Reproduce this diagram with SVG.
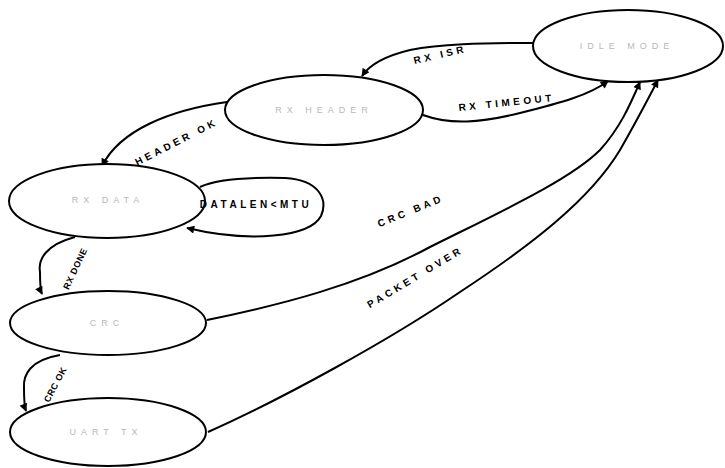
<svg xmlns="http://www.w3.org/2000/svg" width="725" height="468" viewBox="0 0 725 468">
<defs>
<style>
.node{fill:#fff;stroke:#000;stroke-width:2}
.nl{font-family:"Liberation Sans",Arial,sans-serif;font-size:9px;fill:#b8b8b8;letter-spacing:5px;text-anchor:middle}
.edge{fill:none;stroke:#000;stroke-width:2}
.el{font-family:"Liberation Sans",Arial,sans-serif;font-size:10px;font-weight:bold;fill:#000;letter-spacing:3.5px;text-anchor:middle}
.tight{letter-spacing:0.5px;font-size:9px}
</style>
<marker id="ah" viewBox="0 0 10 10" refX="9" refY="5" markerWidth="9" markerHeight="8" orient="auto" markerUnits="userSpaceOnUse">
<path d="M0,0 L10,5 L0,10 z" fill="#000"/>
</marker>
</defs>
<rect width="725" height="468" fill="#fff"/>
<g id="connectors">
<path class="edge" marker-end="url(#ah)" d="M533,43 C480,43 440,44 410,50 C385,56 370,64 362,76"/>
<path class="edge" marker-end="url(#ah)" d="M423,115 C450,125 480,123 520,113 C560,103 590,95 608,81"/>
<path class="edge" marker-end="url(#ah)" d="M227,102 C170,110 120,130 102,166"/>
<path class="edge" marker-end="url(#ah)" d="M200,187 C215,180 240,177 285,178 C320,180 328,200 321,216 C310,237 250,243 187,228"/>
<path class="edge" marker-end="url(#ah)" d="M75,237 C45,245 38,260 40,272 C40,283 40,290 42,294"/>
<path class="edge" marker-end="url(#ah)" d="M60,355 C30,360 23,375 24,388 C24,400 24,406 26,411"/>
<path class="edge" marker-end="url(#ah)" d="M207,320 C280,305 360,285 430,247 C500,212 570,180 600,150 C620,128 630,105 640,82"/>
<path class="edge" marker-end="url(#ah)" d="M208,432 C280,400 390,340 460,292 C530,246 590,200 620,150 C640,115 650,95 658,80"/>
</g>
<g id="idle-mode">
<ellipse class="node" cx="628" cy="46" rx="95" ry="36"/>
<text class="nl" x="627" y="49">IDLE MODE</text>
</g>
<g id="rx-header">
<ellipse class="node" cx="324" cy="110" rx="99" ry="35"/>
<text class="nl" x="324" y="113">RX HEADER</text>
</g>
<g id="rx-data">
<ellipse class="node" cx="107" cy="201" rx="98" ry="37"/>
<text class="nl" x="108" y="203">RX DATA</text>
</g>
<g id="crc">
<ellipse class="node" cx="108" cy="323" rx="98" ry="32"/>
<text class="nl" x="107" y="326">CRC</text>
</g>
<g id="uart-tx">
<ellipse class="node" cx="108" cy="432" rx="98" ry="34"/>
<text class="nl" x="106" y="435">UART TX</text>
</g>
<g id="edge-labels">
<text class="el" transform="translate(441,58) rotate(-13)">RX ISR</text>
<text class="el" transform="translate(507,106) rotate(-6)">RX TIMEOUT</text>
<text class="el" transform="translate(178,145) rotate(-27)">HEADER OK</text>
<text class="el" x="256" y="208">DATALEN&lt;MTU</text>
<text class="el tight" transform="translate(78,270) rotate(-65)">RX DONE</text>
<text class="el tight" transform="translate(58,386) rotate(-62)">CRC OK</text>
<text class="el" transform="translate(412,214) rotate(-22)">CRC BAD</text>
<text class="el" transform="translate(417,280) rotate(-31)">PACKET OVER</text>
</g>
</svg>
